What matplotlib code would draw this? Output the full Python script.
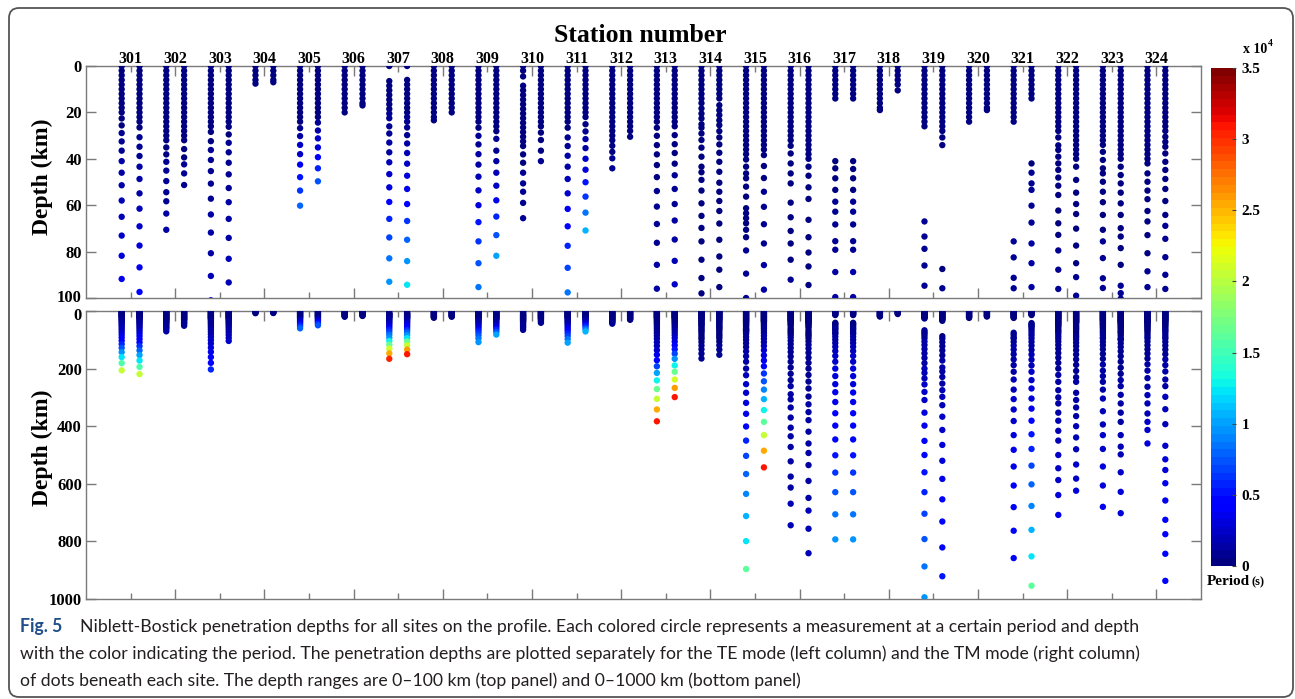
import matplotlib
matplotlib.use("Agg")
import matplotlib.pyplot as plt
from matplotlib.colors import Normalize
from matplotlib.cm import ScalarMappable
from matplotlib.patches import FancyBboxPatch
from matplotlib.transforms import ScaledTranslation

# ---------------------------------------------------------------- data
STATIONS = [301, 302, 303, 304, 305, 306, 307, 308, 309, 310, 311, 312,
            313, 314, 315, 316, 317, 318, 319, 320, 321, 322, 323, 324]

# Niblett-Bostick depths (km), TE mode (left column of each site)
TE_DEPTH = {
    301: [0, 2, 4, 6, 8, 10, 12, 14, 16, 18, 20,
          22.6, 25.6, 28.9, 32.5, 36.5, 41, 46, 51.4, 58, 65, 73.1, 81.8, 91.8,
          103, 115, 128, 143, 160, 181, 206],
    302: [0, 2, 4, 6, 8, 10, 12, 14, 16, 18, 20, 22, 24, 26, 28, 30, 32,
          35.1, 38.1, 41.3, 45.1, 49.6, 54.4, 58.3, 63.6, 70.6],
    303: [0, 2, 4, 6, 8, 10, 12, 14, 16, 18, 20, 22, 24, 26,
          28.4, 32.4, 36.2, 40.5, 45.3, 50.7, 57.2, 64, 71.8, 80.7, 90.5,
          101, 113, 127, 142, 160, 180, 203],
    304: [0, 2, 4, 6, 7.6],
    305: [0, 2, 4, 6, 8, 10, 12, 14, 16, 18, 20, 22, 24,
          26.8, 30.2, 34, 38, 42.5, 47.9, 53.7, 60.2],
    306: [0, 2, 4, 6, 8, 10, 12, 14, 16, 18, 20],
    307: [0, 6.5, 8.5, 10.5, 12.5, 14.5, 16.5, 18.5, 20.5, 22.5,
          26, 29.1, 33, 37.2, 41.5, 46.6, 52.3, 58.6, 65.9, 73.9, 82.9, 93,
          104, 117, 131, 147, 166],
    308: [0, 2, 4, 6, 8, 10, 12, 14, 16, 18, 20, 22, 23.4],
    309: [0, 2, 4, 6, 8, 10, 12, 14, 16, 18, 20, 22, 24,
          26.6, 30.1, 33.8, 38, 42.5, 47.7, 53.6, 60, 67.3, 75.6, 85, 95.3,
          108],
    310: [0, 2, 4.5,
          8.5, 10.5, 12.5, 14.5, 16.5, 18.5, 20.5, 22.5, 24.5, 26.5, 28.5, 30.5, 32.5, 34.5,
          38.1, 41.7, 46, 50.6, 54.2, 59, 65.6],
    311: [0, 2, 4, 6, 8, 10, 12, 14, 16, 18, 20, 22, 24,
          26.6, 30.8, 34.5, 38.7, 43.4, 48.7, 54.9, 61.6, 69.1, 77.5, 87, 97.6,
          110],
    312: [0, 2, 4, 6, 8, 10, 12, 14, 16, 18, 20, 22, 24, 26, 28, 30, 32,
          34.4, 37, 39.8, 44.1],
    313: [0, 2, 4, 6, 8, 10, 12, 14, 16, 18, 20, 22, 24,
          26.6, 30.1, 34.1, 38.1, 42.7, 47.9, 53.9, 60.6, 68.1, 76.2, 85.7, 96,
          108, 121, 136, 152, 171, 192, 215, 241, 271, 305, 342, 383],
    314: [0, 2, 4, 6, 8, 10, 12, 14, 16,
          18.3, 20.5, 22.6, 25.1, 26.6, 29.1, 31.9, 35.2, 39.1, 43.4, 45.8, 49.1,
          53.7, 59.2, 64.6, 69.8, 75.6, 83.5, 91.4, 98,
          108, 120, 133, 148, 165],
    315: [0, 2, 4, 6, 8, 10, 12, 14, 16, 18, 20, 22, 24, 26, 28, 30, 32, 34, 36,
          38, 40.3, 43.4, 46.3, 48.4, 52, 56.3, 61.3, 63.5, 65.6, 67.8, 70.6, 73.8, 79.5, 89.5,
          100, 112, 125, 140, 157, 176, 200, 223, 254, 284, 319, 357, 401, 450, 503,
          566, 635, 712, 799, 896],
    316: [0, 2, 4, 6, 8, 10, 12, 14, 16, 18, 20, 22, 24, 26, 28, 30, 32,
          34.4, 37.7, 42, 46.3, 50.6, 58.9, 65.2, 71.1, 76.5, 83.5, 92.1,
          103, 115, 128, 142, 158, 176, 196, 218, 240, 261, 289, 307, 335, 370, 405,
          435, 472, 522, 575, 613, 669, 744],
    317: [0, 2, 4, 6, 8, 10, 12, 14,
          41, 44.1, 48.4, 53.4, 58.5, 62.8, 68.3, 75.5, 79.2, 88.8, 99.6,
          111, 124, 139, 156, 176, 200, 226, 254, 282, 316, 355, 398, 446, 501, 561,
          629, 706, 793],
    318: [0, 2, 4, 6, 8, 10, 12, 14, 16, 18, 19],
    319: [0, 2, 4, 6, 8, 10, 12, 14, 16, 18, 20, 22, 24, 26,
          67, 73.5, 78.8, 86, 94.7,
          106, 118, 132, 147, 163, 181, 200, 215, 234, 255, 281, 309, 353, 398, 451,
          500, 560, 629, 704, 792, 887, 994],
    320: [0, 2, 4, 6, 8, 10, 12, 14, 16, 18, 20, 22, 24],
    321: [0, 2, 4, 6, 8, 10, 12, 14, 16, 18, 20, 22, 24,
          75.6, 82.5, 91.3, 95.8,
          107, 120, 134, 150, 168, 188, 211, 238, 273, 306, 342, 382, 431, 482, 540,
          606, 681, 763, 858],
    322: [0, 2, 4, 6, 8, 10, 12, 14, 16, 18, 20, 22, 24, 26, 28,
          30.8, 34.2, 36.2, 39.1, 42, 44.8, 48.1, 51.6, 55.6, 62.3, 67.8, 72.8, 79.5, 87.8, 96.1,
          106, 118, 131, 146, 162, 180, 200, 222, 246, 275, 300, 321, 353, 381, 416,
          450, 500, 546, 587, 639, 708],
    323: [0, 2, 4, 6, 8, 10, 12, 14, 16, 18, 20, 22, 24, 26, 28, 30, 32, 34,
          37, 40.5, 44.1, 46.3, 49.9, 54.2, 58.7, 64.2, 70.6, 75.6, 82.8, 91.5, 95.7,
          107, 119, 133, 149, 166, 186, 207, 226, 246, 273, 304, 348, 394, 431, 479,
          540, 606, 680],
    324: [0, 2, 4, 6, 8, 10, 12, 14, 16, 18, 20, 22, 24, 26, 28, 30, 32, 34, 36, 38, 40, 42,
          46.3, 49.9, 53.7, 57.4, 62.5, 67, 72.9, 80.7, 88.5, 95.3,
          106, 119, 133, 148, 165, 185, 207, 233, 263, 292, 321, 356, 385, 413, 460],
}

# periods of the TE dots (x 1000 s), same order as TE_DEPTH
TE_PERIOD = {
    301: [.1, .1, .1, .1, .1, .1, .2, .2, .2, .3, .3,
          .4, .5, .6, .7, .9, 1.1, 1.3, 1.5, 1.8, 2.1, 2.5, 2.9, 3.4,
          4.3, 5.6, 7.3, 9.5, 12.3, 15.8, 20.5],
    302: [.1, .1, .1, .1, .1, .1, .1, .1, .2, .2, .2, .2, .2, .3, .3, .3, .3,
          .4, .5, .6, .7, .8, .9, 1.0, 1.2, 1.4],
    303: [.1, .1, .1, .1, .1, .1, .2, .2, .2, .2, .3, .3, .3, .3,
          .4, .5, .6, .7, .8, .9, 1.0, 1.2, 1.4, 1.6, 1.9,
          2.2, 2.6, 3.0, 3.5, 4.0, 4.7, 5.5],
    304: [.1, .1, .1, .1, .1],
    305: [.1, .1, .1, .1, .2, .2, .2, .3, .3, .3, .4, .4, .4,
          1.0, 1.6, 2.2, 2.7, 3.5, 5.0, 6.5, 7.9],
    306: [.1, .1, .1, .1, .1, .1, .1, .1, .1, .1, .1],
    307: [.1, .2, .2, .3, .3, .4, .4, .5, .6, .7,
          .8, 1.0, 1.3, 1.6, 2.0, 2.6, 3.2, 4.0, 5.5, 7.0, 8.3, 9.8,
          12.7, 16.5, 21.0, 25.5, 30.5],
    308: [.1, .1, .1, .1, .1, .1, .1, .1, .1, .1, .1, .1, .1],
    309: [.1, .1, .1, .1, .1, .2, .2, .2, .2, .3, .3, .3, .3,
          .5, .7, .9, 1.1, 1.4, 1.8, 2.3, 3.0, 5.0, 6.4, 7.4, 8.3,
          9.8],
    310: [.1, .1, .1,
          .1, .1, .1, .2, .2, .2, .2, .2, .2, .3, .3, .3, .3, .3,
          .4, .5, .6, .7, .8, .9, 1.0],
    311: [.1, .1, .1, .1, .1, .2, .2, .2, .2, .3, .3, .3, .3,
          .5, .7, .9, 1.1, 1.4, 1.8, 2.5, 3.5, 4.6, 5.6, 6.8, 8.6,
          10.2],
    312: [.1, .1, .1, .1, .1, .1, .2, .2, .2, .2, .2, .2, .3, .3, .3, .3, .3,
          .4, .5, .6, .8],
    313: [.1, .1, .1, .1, .1, .1, .1, .2, .2, .2, .2, .2, .2,
          .2, .3, .3, .4, .4, .5, .6, .7, .8, 1.0, 1.2, 1.4,
          1.7, 2.1, 2.7, 3.5, 4.6, 7.0, 10.0, 13.0, 16.5, 20.5, 25.5, 31.0],
    314: [.1, .1, .1, .1, .1, .1, .1, .1, .1,
          .1, .1, .1, .1, .1, .2, .2, .2, .2, .2, .2, .3,
          .3, .3, .3, .4, .4, .4, .5, .5,
          .5, .6, .6, .7, .8],
    315: [.1, .1, .1, .1, .1, .1, .1, .1, .1, .1, .2, .2, .2, .2, .2, .2, .2, .2, .2,
          .2, .2, .3, .3, .3, .3, .4, .4, .4, .4, .5, .5, .5, .6, .7,
          .8, .9, 1.0, 1.1, 1.2, 1.3, 1.5, 1.8, 2.2, 2.6, 3.0, 3.5, 4.5, 5.7, 6.6,
          8.0, 9.0, 10.5, 12.5, 16.0],
    316: [.1, .1, .1, .1, .1, .1, .1, .1, .1, .2, .2, .2, .2, .2, .2, .2, .2,
          .2, .2, .3, .3, .3, .4, .4, .4, .5, .5, .6,
          .6, .7, .7, .8, .8, .9, .9, 1.0, 1.0, 1.1, 1.1, 1.2, 1.2, 1.3, 1.3,
          1.4, 1.4, 1.5, 1.5, 1.6, 1.7, 1.8],
    317: [.1, .1, .1, .1, .1, .1, .1, .1,
          .3, .4, .5, .5, .6, .7, .8, .9, 1.0, 1.2, 1.4,
          1.6, 1.8, 2.0, 2.2, 2.5, 2.8, 3.0, 3.2, 3.4, 3.7, 3.9, 4.2, 4.6, 5.3, 6.2,
          7.4, 8.4, 9.6],
    318: [.1, .1, .1, .1, .1, .1, .1, .1, .1, .1, .1],
    319: [.1, .1, .1, .1, .1, .1, .1, .2, .2, .2, .2, .2, .2, .2,
          .6, .7, .8, .9, 1.0,
          1.1, 1.2, 1.3, 1.4, 1.5, 1.6, 1.8, 1.9, 2.0, 2.2, 2.4, 2.6, 3.0, 3.4, 3.9,
          4.4, 5.0, 5.8, 6.6, 7.5, 8.5, 9.5],
    320: [.1, .1, .1, .1, .1, .1, .1, .1, .1, .1, .1, .1, .1],
    321: [.1, .1, .1, .1, .1, .1, .1, .2, .2, .2, .2, .2, .2,
          .6, .7, .8, .9,
          1.0, 1.1, 1.2, 1.3, 1.4, 1.5, 1.6, 1.8, 2.0, 2.2, 2.4, 2.7, 3.0, 3.3, 3.6,
          3.9, 4.2, 4.5, 4.8],
    322: [.1, .1, .1, .1, .1, .1, .1, .1, .2, .2, .2, .2, .2, .2, .2,
          .2, .2, .3, .3, .3, .3, .4, .4, .4, .5, .5, .5, .6, .6, .7,
          .7, .8, .8, .9, .9, 1.0, 1.0, 1.1, 1.2, 1.3, 1.4, 1.5, 1.6, 1.7, 1.8,
          2.0, 2.2, 2.4, 2.6, 2.9, 3.3],
    323: [.1, .1, .1, .1, .1, .1, .1, .1, .1, .2, .2, .2, .2, .2, .2, .2, .2, .2,
          .2, .3, .3, .3, .4, .4, .4, .5, .5, .6, .6, .7, .7,
          .8, .8, .9, .9, 1.0, 1.1, 1.2, 1.3, 1.4, 1.5, 1.7, 1.9, 2.1, 2.3, 2.6,
          2.9, 3.2, 3.5],
    324: [.1, .1, .1, .1, .1, .1, .1, .1, .1, .1, .1, .2, .2, .2, .2, .2, .2, .2, .2, .2, .2, .2,
          .3, .3, .3, .4, .4, .4, .5, .5, .6, .6,
          .7, .8, .8, .9, 1.0, 1.1, 1.2, 1.3, 1.5, 1.7, 1.9, 2.1, 2.3, 2.6, 3.0],
}

# Niblett-Bostick depths (km), TM mode (right column of each site)
TM_DEPTH = {
    301: [0, 2, 4, 6, 8, 10, 12, 14, 16, 18, 20, 22, 24,
          26.5, 30.7, 34.8, 38.8, 43.4, 48.7, 54.9, 61.5, 69.1, 77.4, 86.8, 97.4,
          109, 122, 137, 153, 172, 194, 219],
    302: [0, 2, 4, 6, 8, 10, 12, 14, 16, 18, 20, 22, 24, 26, 28, 30, 32,
          35.8, 39.4, 42.4, 46.3, 51.3],
    303: [0, 2, 4, 6, 8, 10, 12, 14, 16, 18, 20, 22, 24,
          26.2, 29.5, 33.1, 37.2, 41.7, 46.7, 52.6, 58.7, 65.9, 74.1, 83.1, 93.3,
          104],
    304: [0, 2, 4, 6, 7],
    305: [0, 2, 4, 6, 8, 10, 12, 14, 16, 18, 20, 22,
          24.4, 27.8, 31.2, 35.1, 39.3, 44.1, 49.7],
    306: [0, 2, 4, 6, 8, 10, 12, 14, 16, 17],
    307: [0,
          6, 8, 10, 12, 14, 16, 18, 20, 22, 24,
          26.5, 29.8, 33.4, 37.5, 42.1, 47.3, 53, 59.5, 66.8, 74.9, 84.1, 94.3,
          106, 119, 134, 150],
    308: [0, 2, 4, 6, 8, 10, 12, 14, 16, 18, 20],
    309: [0, 2, 4, 6, 8, 10, 12, 14, 16, 18, 20, 22, 24, 26,
          28.1, 31.4, 36.5, 41, 46, 51.6, 57.9, 64.9, 72.9, 81.8],
    310: [0, 2, 4, 6, 8, 10, 12, 14, 16, 18, 20, 22, 24, 26,
          28.7, 31.9, 36.5, 41],
    311: [0, 2, 4, 6, 8, 10, 12, 14, 16, 18, 20, 22,
          25.1, 28.2, 31.5, 35.4, 40, 44.7, 50.1, 56.3, 63.2, 70.9],
    312: [0, 2, 4, 6, 8, 10, 12, 14, 16, 18, 20, 22, 24, 26, 28,
          30.5],
    313: [0, 2, 4, 6, 8, 10, 12, 14, 16, 18, 20, 22, 24, 26,
          29.8, 33.7, 37.5, 42.1, 47.1, 53, 59.5, 66.6, 74.8, 84, 94.1,
          106, 119, 133, 148, 166, 189, 211, 238, 267, 299],
    314: [0, 2, 4, 6, 8, 10, 12, 14,
          16.9, 19.1, 21.2, 23.4, 25.5, 28.1, 30.8, 33.8, 37.4, 41.3, 45.6, 50.3,
          54.2, 58.2, 62.5, 67.9, 74.9, 82.1, 87.8, 95.3,
          106, 119, 134, 152],
    315: [0, 2, 4, 6, 8, 10, 12, 14, 16, 18, 20, 22, 24, 26, 28, 30, 32, 34, 36,
          38.4, 43.1, 48.3, 54.2, 60.7, 68.2, 76.5, 85.8, 96.4,
          108, 121, 136, 154, 172, 192, 217, 244, 273, 306, 344, 385, 431, 485, 543],
    316: [0, 2, 4, 6, 8, 10, 12, 14, 16, 18, 20, 22, 24, 26, 28, 30, 32, 34, 36, 38, 40,
          43.4, 47.3, 52.3, 57.3, 66.3, 73.8, 80.4, 86.4, 94.4,
          105, 117, 130, 145, 162, 180, 200, 222, 245, 269, 297, 324, 351, 379, 419,
          460, 493, 535, 590, 649, 693, 756, 841],
    317: [0, 2, 4, 6, 8, 10, 12, 14,
          41, 44.4, 48.4, 53.4, 58.5, 62.8, 68.3, 75.5, 79.2, 88.8, 99.6,
          111, 124, 139, 156, 176, 200, 226, 254, 283, 316, 355, 398, 446, 501, 561,
          629, 706, 793],
    318: [0, 2, 4, 6, 8, 10.5],
    319: [0, 2, 4, 6, 8, 10, 12, 14, 16, 18, 20, 22, 24, 26, 28,
          30.8, 34.1,
          87.5, 95.8,
          108, 122, 137, 154, 172, 196, 210, 229, 252, 275, 298, 327, 367, 413, 465,
          520, 583, 654, 731, 821, 921],
    320: [0, 2, 4, 6, 8, 10, 12, 14, 16, 18, 19],
    321: [0, 2, 4, 6, 8, 10, 12, 14,
          42, 46, 50.6, 53.4, 60.2, 67.5, 76.5, 85, 95.3,
          107, 120, 135, 151, 169, 189, 211, 240, 269, 304, 339, 381, 428, 479, 537,
          602, 677, 760, 852, 954],
    322: [0, 2, 4, 6, 8, 10, 12, 14, 16, 18, 20, 22, 24, 26, 28, 30, 32, 34, 36, 38, 40,
          43.4, 49.1, 54.6, 59.5, 63.8, 70.1, 77.4, 85, 91, 99,
          110, 122, 136, 151, 168, 187, 208, 230, 246, 284, 309, 335, 365, 400, 439,
          480, 533, 582, 624],
    323: [0, 2, 4, 6, 8, 10, 12, 14, 16, 18, 20, 22, 24, 26, 28, 30, 32, 34, 36, 38, 40,
          43.4, 47, 50.6, 54.6, 59.2, 64.2, 69.9, 73.5, 78.5, 85.7, 94.7, 97.9, 100.3,
          112, 125, 140, 157, 176, 197, 218, 240, 261, 291, 321, 353, 385, 431, 471,
          498, 560, 628, 702],
    324: [0, 2, 4, 6, 8, 10, 12, 14, 16, 18, 20, 22, 24, 26, 28,
          30.5, 32.7, 34.8, 37.7, 41.3, 44.8, 48.7, 53, 58.2, 64.2, 68.9, 74.5, 82.4, 90, 96.1,
          107, 120, 134, 150, 168, 188, 210, 238, 261, 298, 341, 393, 468, 515, 552,
          598, 658, 725, 775, 843, 937],
}

# periods of the TM dots (x 1000 s), same order as TM_DEPTH
TM_PERIOD = {
    301: [.1, .1, .1, .1, .1, .1, .2, .2, .2, .3, .3, .3, .4,
          .5, .6, .7, .9, 1.1, 1.3, 1.6, 1.9, 2.3, 2.8, 3.3, 4.0,
          4.9, 6.2, 7.9, 9.9, 12.5, 15.8, 20.5],
    302: [.1, .1, .1, .1, .1, .1, .1, .1, .2, .2, .2, .2, .2, .3, .3, .3, .3,
          .4, .5, .6, .7, .9],
    303: [.1, .1, .1, .1, .1, .1, .2, .2, .2, .2, .3, .3, .3,
          .4, .5, .6, .7, .8, .9, 1.0, 1.1, 1.3, 1.5, 1.7, 2.0,
          2.3],
    304: [.1, .1, .1, .1, .1],
    305: [.1, .1, .1, .1, .2, .2, .2, .3, .3, .3, .4, .4,
          1.0, 1.5, 2.2, 3.0, 4.0, 6.0, 7.5],
    306: [.1, .1, .1, .1, .1, .1, .1, .1, .1, .1],
    307: [.1,
          .2, .2, .3, .3, .4, .4, .5, .5, .6, .7,
          .8, 1.0, 1.3, 1.7, 2.2, 2.8, 3.5, 4.8, 6.5, 8.0, 9.8, 12.5,
          16.5, 20.5, 26.0, 31.0],
    308: [.1, .1, .1, .1, .1, .1, .1, .1, .1, .1, .1],
    309: [.1, .1, .1, .1, .1, .2, .2, .2, .2, .2, .3, .3, .3, .3,
          .5, .7, 1.0, 1.4, 2.0, 2.6, 3.5, 6.0, 7.5, 10.0],
    310: [.1, .1, .1, .1, .1, .1, .1, .2, .2, .2, .2, .2, .2, .2,
          .3, .4, .5, .6],
    311: [.1, .1, .1, .1, .2, .2, .2, .2, .3, .3, .3, .3,
          .5, .8, 1.1, 1.6, 2.4, 3.1, 5.3, 6.2, 8.3, 10.5],
    312: [.1, .1, .1, .1, .1, .1, .1, .1, .2, .2, .2, .2, .2, .2, .2,
          .4],
    313: [.1, .1, .1, .1, .1, .1, .1, .2, .2, .2, .2, .2, .2, .2,
          .3, .3, .4, .5, .6, .7, .9, 1.1, 1.4, 1.8, 2.3,
          3.0, 4.0, 5.3, 7.0, 9.5, 13.0, 16.5, 21.0, 26.0, 31.0],
    314: [.1, .1, .1, .1, .1, .1, .1, .1,
          .1, .1, .1, .1, .1, .2, .2, .2, .2, .2, .2, .3,
          .3, .3, .3, .4, .4, .4, .5, .5,
          .5, .6, .7, .8],
    315: [.1, .1, .1, .1, .1, .1, .1, .1, .1, .1, .2, .2, .2, .2, .2, .2, .2, .2, .2,
          .3, .4, .5, .6, .7, .8, 1.0, 1.2, 1.4,
          1.6, 1.9, 2.3, 2.9, 3.6, 4.8, 6.2, 7.5, 8.8, 10.5, 13.0, 16.0, 20.5, 25.5, 31.0],
    316: [.1, .1, .1, .1, .1, .1, .1, .1, .1, .1, .1, .2, .2, .2, .2, .2, .2, .2, .2, .2, .2,
          .2, .3, .3, .3, .4, .4, .4, .5, .5,
          .5, .6, .6, .7, .7, .8, .8, .9, .9, 1.0, 1.0, 1.1, 1.1, 1.2, 1.2,
          1.3, 1.3, 1.4, 1.5, 1.6, 1.7, 1.8, 2.0],
    317: [.1, .1, .1, .1, .1, .1, .1, .1,
          .3, .4, .5, .5, .6, .7, .8, .9, 1.0, 1.2, 1.4,
          1.6, 1.8, 2.0, 2.2, 2.5, 2.8, 3.0, 3.2, 3.4, 3.7, 3.9, 4.2, 4.6, 5.3, 6.2,
          7.4, 8.4, 9.6],
    318: [.1, .1, .1, .1, .1, .1],
    319: [.1, .1, .1, .1, .1, .1, .1, .1, .2, .2, .2, .2, .2, .2, .2,
          .3, .3,
          .5, .6,
          .7, .8, .9, 1.0, 1.1, 1.2, 1.3, 1.4, 1.5, 1.7, 1.8, 2.0, 2.2, 2.5, 2.8,
          3.2, 3.6, 4.0, 4.4, 4.8, 5.2],
    320: [.1, .1, .1, .1, .1, .1, .1, .1, .1, .1, .1],
    321: [.1, .1, .1, .1, .1, .1, .1, .1,
          .5, .6, .7, .8, .9, 1.0, 1.1, 1.2, 1.3,
          1.4, 1.5, 1.6, 1.7, 1.8, 2.0, 2.2, 2.5, 2.8, 3.1, 3.5, 4.4, 5.0, 6.0, 6.8,
          8.0, 9.0, 10.5, 12.5, 16.0],
    322: [.1, .1, .1, .1, .1, .1, .1, .1, .1, .1, .1, .2, .2, .2, .2, .2, .2, .2, .2, .2, .2,
          .3, .3, .3, .4, .4, .4, .5, .5, .6, .6,
          .7, .7, .8, .8, .9, .9, 1.0, 1.0, 1.1, 1.2, 1.3, 1.4, 1.5, 1.7, 1.9,
          2.1, 2.4, 2.7, 3.0],
    323: [.1, .1, .1, .1, .1, .1, .1, .1, .1, .1, .1, .2, .2, .2, .2, .2, .2, .2, .2, .2, .2,
          .2, .3, .3, .3, .4, .4, .4, .5, .5, .5, .6, .6, .6,
          .7, .7, .8, .8, .9, 1.0, 1.0, 1.1, 1.2, 1.3, 1.4, 1.5, 1.6, 1.8, 2.0,
          2.1, 2.4, 2.8, 3.2],
    324: [.1, .1, .1, .1, .1, .1, .1, .1, .2, .2, .2, .2, .2, .2, .2,
          .2, .2, .3, .3, .3, .4, .4, .4, .5, .5, .6, .6, .7, .7, .8,
          .8, .9, .9, 1.0, 1.1, 1.2, 1.3, 1.4, 1.5, 1.7, 1.9, 2.1, 2.5, 2.8, 3.0,
          3.3, 3.6, 3.9, 4.2, 4.5, 4.8],
}

TOP_TICKS = [0, 20, 40, 60, 80, 100]
BOTTOM_TICKS = [0, 200, 400, 600, 800, 1000]
CBAR_TICKS = [0, 5000, 10000, 15000, 20000, 25000, 30000, 35000]
CBAR_LABELS = ["0", "0.5", "1", "1.5", "2", "2.5", "3", "3.5"]
PERIOD_MAX = 35000

CAPTION_HEAD = "Fig. 5"
CAPTION_LINES = [
    "Niblett-Bostick penetration depths for all sites on the profile. Each colored circle represents a measurement at a certain period and depth",
    "with the color indicating the period. The penetration depths are plotted separately for the TE mode (left column) and the TM mode (right column)",
    "of dots beneath each site. The depth ranges are 0\u2013100 km (top panel) and 0\u20131000 km (bottom panel)",
]

# ---------------------------------------------------------------- style
W, H = 1295, 699
SERIF = "Liberation Serif"
SPINE = "#7a7a7a"
plt.rcParams["font.family"] = "serif"
plt.rcParams["font.serif"] = [SERIF, "DejaVu Serif"]
plt.rcParams["font.weight"] = "bold"

fig = plt.figure(figsize=(W / 100, H / 100), dpi=100)
fig.patch.set_facecolor("white")


def rect(l, t, r, b):
    return [l / W, 1 - b / H, (r - l) / W, (b - t) / H]


ax1 = fig.add_axes(rect(86, 66, 1201, 298))
ax2 = fig.add_axes(rect(86, 311, 1201, 599))
cax = fig.add_axes(rect(1211, 68, 1236, 566))

cmap = plt.get_cmap("jet", 64)
norm = Normalize(0, PERIOD_MAX)

bad = []
for ax, ymax, yt in ((ax1, 100, TOP_TICKS), (ax2, 1000, BOTTOM_TICKS)):
    for i, st in enumerate(STATIONS):
        pos = i + 1
        for off, DD, PP, name in ((-0.2, TE_DEPTH, TE_PERIOD, "TE"),
                                  (0.2, TM_DEPTH, TM_PERIOD, "TM")):
            d = DD[st]
            p = PP[st]
            if len(d) != len(p) and ax is ax1:
                bad.append(f"{name} {st}: depth {len(d)} period {len(p)}")
            n = min(len(d), len(p))
            ax.scatter([pos + off] * n, d[:n], c=[v * 1000 for v in p[:n]],
                       cmap=cmap, norm=norm, s=21, linewidths=0, zorder=3)
    ax.set_xlim(0, 25)
    ax.set_ylim(ymax, 0)
    ax.set_xticks(list(range(2, 25, 2)))
    ax.set_xticks(list(range(1, 25, 2)), minor=True)
    ax.set_yticks(yt)
    ax.set_yticklabels([str(v) for v in yt])
    ax.tick_params(axis="x", which="both", direction="in", top=True, bottom=True,
                   labelbottom=False, color=SPINE, width=1.0)
    ax.tick_params(axis="x", which="major", length=7.5)
    ax.tick_params(axis="x", which="minor", length=4.5)
    ax.tick_params(axis="y", which="major", direction="in", left=True, right=True,
                   length=7.5, color=SPINE, width=1.0, labelsize=12, pad=3)
    for sp in ax.spines.values():
        sp.set_color(SPINE)
        sp.set_linewidth(1.0)
    for lab in ax.get_yticklabels():
        lab.set_fontweight("bold")

# nudge the touching "100" / "0" labels between the panels slightly apart
lab_top = ax1.get_yticklabels()[-1]
lab_top.set_transform(lab_top.get_transform()
                      + ScaledTranslation(0, 2.5 / 100, fig.dpi_scale_trans))
lab_bot = ax2.get_yticklabels()[0]
lab_bot.set_transform(lab_bot.get_transform()
                      + ScaledTranslation(0, -2.5 / 100, fig.dpi_scale_trans))

# station labels above the top panel
for i, st in enumerate(STATIONS):
    ax1.annotate(str(st), xy=(i + 1, 1.0), xycoords=("data", "axes fraction"),
                 xytext=(0, 2.2), textcoords="offset points", ha="center",
                 va="baseline", fontsize=11.5, fontweight="bold")

fig.text(640 / W, 1 - 42 / H, "Station number", ha="center", va="baseline",
         fontsize=18.5, fontweight="bold")
fig.text(42 / W, 1 - 177 / H, "Depth (km)", rotation=90, ha="center",
         va="center", fontsize=17, fontweight="bold")
fig.text(42 / W, 1 - 448 / H, "Depth (km)", rotation=90, ha="center",
         va="center", fontsize=17, fontweight="bold")

# colorbar
sm = ScalarMappable(norm=norm, cmap=cmap)
cb = fig.colorbar(sm, cax=cax, ticks=CBAR_TICKS)
cb.ax.set_yticklabels(CBAR_LABELS)
cb.outline.set_visible(False)
cax.tick_params(direction="in", length=3, width=0.8, color="#444444",
                labelsize=11, pad=4)
for lab in cax.get_yticklabels():
    lab.set_fontweight("bold")
fig.text(1243 / W, 1 - 53 / H, "x 10", ha="left", va="baseline",
         fontsize=10, fontweight="bold")
fig.text(1268 / W, 1 - 46 / H, "4", ha="left", va="baseline",
         fontsize=7, fontweight="bold")
fig.text(1207 / W, 1 - 585 / H, "Period", ha="left", va="baseline",
         fontsize=11, fontweight="bold")
fig.text(1251 / W, 1 - 585 / H, "(s)", ha="left", va="baseline",
         fontsize=9, fontweight="bold")

# caption
CAP_FONT = "Lato"
CAP_COLOR = "#231f20"
fig.canvas.draw()
rend = fig.canvas.get_renderer()
probe = fig.text(20 / W, 1 - 659 / H, CAPTION_LINES[1], fontsize=12,
                 family=CAP_FONT, fontweight="normal", color=CAP_COLOR,
                 ha="left", va="baseline")
wpx = probe.get_window_extent(renderer=rend).width
cap_fs = 12 * (1138 - 20) / wpx
probe.set_fontsize(cap_fs)
fig.text(20 / W, 1 - 632 / H, CAPTION_HEAD, fontsize=cap_fs,
         family=CAP_FONT, fontweight="bold", color="#1f4e89",
         ha="left", va="baseline")
fig.text(80 / W, 1 - 632 / H, CAPTION_LINES[0], fontsize=cap_fs,
         family=CAP_FONT, fontweight="normal", color=CAP_COLOR,
         ha="left", va="baseline")
fig.text(20 / W, 1 - 686 / H, CAPTION_LINES[2], fontsize=cap_fs,
         family=CAP_FONT, fontweight="normal", color=CAP_COLOR,
         ha="left", va="baseline")

# rounded frame
frame = FancyBboxPatch((0.09, 0.02), 12.84, 6.89,
                       boxstyle="round,pad=0,rounding_size=0.1",
                       transform=fig.dpi_scale_trans, fill=False,
                       edgecolor="#555555", linewidth=1.3)
fig.add_artist(frame)

fig.savefig("out.png", dpi=100)

if bad:
    raise SystemExit("length mismatch:\n" + "\n".join(bad))
